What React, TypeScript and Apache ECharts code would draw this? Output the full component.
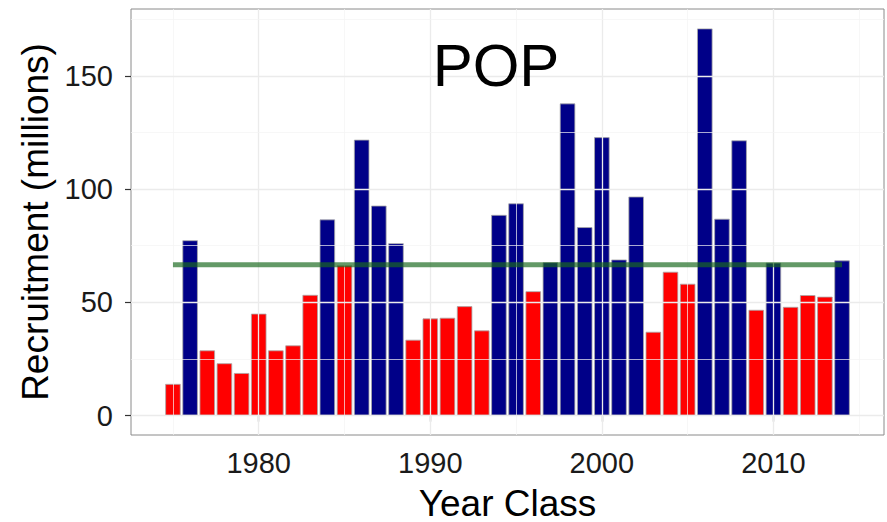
import React, { useEffect, useRef } from "react";
import * as echarts from "echarts";

const years = [
  1975, 1976, 1977, 1978, 1979, 1980, 1981, 1982, 1983, 1984,
  1985, 1986, 1987, 1988, 1989, 1990, 1991, 1992, 1993, 1994,
  1995, 1996, 1997, 1998, 1999, 2000, 2001, 2002, 2003, 2004,
  2005, 2006, 2007, 2008, 2009, 2010, 2011, 2012, 2013, 2014,
];
const recruitment = [
  14, 77.4, 28.8, 23.1, 18.8, 45, 28.8, 31, 53.3, 86.6,
  66.3, 121.8, 92.7, 76.1, 33.5, 42.9, 43.2, 48.3, 37.6, 88.6,
  93.7, 54.9, 67.7, 137.8, 83.2, 122.9, 68.9, 96.7, 37, 63.5,
  58.2, 170.9, 86.9, 121.5, 46.7, 67.5, 48, 53.2, 52.5, 68.5,
];
const meanRecruitment = 66.6;
const xTickLabels = [1980, 1990, 2000, 2010];
const xMinorGrid = [1975, 1985, 1995, 2005, 2015];
const yTickLabels = [0, 50, 100, 150];
const yMinorGrid = [25, 75, 125, 175];
const panelLabel = "POP";

const FONT = "'Liberation Sans', Arial, Helvetica, sans-serif";
const RED = "#FF0000";
const BLUE = "#000088";

export default function App() {
  const ref = useRef<HTMLDivElement>(null);
  useEffect(() => {
    if (!ref.current) return;
    const chart = echarts.init(ref.current, null, { renderer: "svg" });
    const major = { color: "#ebebeb", width: 1.3, type: "solid" };
    const minor = { color: "#f3f3f3", width: 0.7, type: "solid" };
    const gridLines: any[] = [
      ...xTickLabels.map((v) => ({ xAxis: v, lineStyle: major })),
      ...xMinorGrid.map((v) => ({ xAxis: v, lineStyle: minor })),
      ...yTickLabels.map((v) => ({ yAxis: v, lineStyle: major })),
      ...yMinorGrid.map((v) => ({ yAxis: v, lineStyle: minor })),
    ];
    chart.setOption({
      animation: false,
      backgroundColor: "#ffffff",
      textStyle: { fontFamily: FONT },
      grid: {
        left: 131,
        right: 3,
        top: 9,
        bottom: 87,
        show: true,
        borderColor: "#8a8a8a",
        borderWidth: 1,
        backgroundColor: "#ffffff",
        containLabel: false,
        outerBoundsMode: "none",
      },
      xAxis: {
        type: "value",
        min: 1972.555,
        max: 2016.445,
        axisLine: { show: false },
        splitLine: { show: false },
        axisTick: {
          show: true,
          length: 6,
          customValues: xTickLabels,
          lineStyle: { color: "#333333", width: 1.2 },
        },
        axisLabel: {
          customValues: xTickLabels,
          formatter: (v: number) => String(v),
          fontSize: 29,
          color: "#1a1a1a",
          margin: 13,
          fontFamily: FONT,
        },
        name: "Year Class",
        nameLocation: "middle",
        nameGap: 50,
        nameTextStyle: { fontSize: 37, lineHeight: 36, color: "#000000", fontFamily: FONT },
      },
      yAxis: {
        type: "value",
        min: -8.55,
        max: 179.5,
        axisLine: { show: false },
        splitLine: { show: false },
        axisTick: {
          show: true,
          length: 6,
          customValues: yTickLabels,
          lineStyle: { color: "#333333", width: 1.2 },
        },
        axisLabel: {
          customValues: yTickLabels,
          formatter: (v: number) => String(v),
          fontSize: 29,
          color: "#1a1a1a",
          margin: 18,
          fontFamily: FONT,
        },
        name: "Recruitment (millions)",
        nameLocation: "middle",
        nameGap: 74,
        nameRotate: 90,
        nameTextStyle: { fontSize: 37, color: "#000000", fontFamily: FONT },
      },
      graphic: [
        {
          type: "text",
          x: 496,
          y: 65,
          z: 10,
          style: {
            text: panelLabel,
            fontSize: 60,
            fontFamily: FONT,
            fill: "#000000",
            align: "center",
            verticalAlign: "middle",
          },
        },
      ],
      series: [
        {
          type: "line",
          data: [],
          z: 0,
          silent: true,
          markLine: {
            silent: true,
            symbol: ["none", "none"],
            label: { show: false },
            data: gridLines,
            animation: false,
          },
        },
        {
          type: "bar",
          z: 2,
          barWidth: "90%",
          data: years.map((y, i) => ({
            value: [y, recruitment[i]],
            itemStyle: {
              color: recruitment[i] > meanRecruitment ? BLUE : RED,
              borderColor: "#a8a8a8",
              borderWidth: 0.8,
            },
          })),
        },
        {
          type: "line",
          z: 8,
          symbol: "none",
          silent: true,
          data: [
            [years[0], meanRecruitment],
            [years[years.length - 1], meanRecruitment],
          ],
          lineStyle: { color: "rgba(25,105,30,0.68)", width: 5 },
        },
      ],
    });
    return () => chart.dispose();
  }, []);
  return <div ref={ref} style={{ width: 887, height: 522, position: "absolute", left: 0, top: 0 }} />;
}
